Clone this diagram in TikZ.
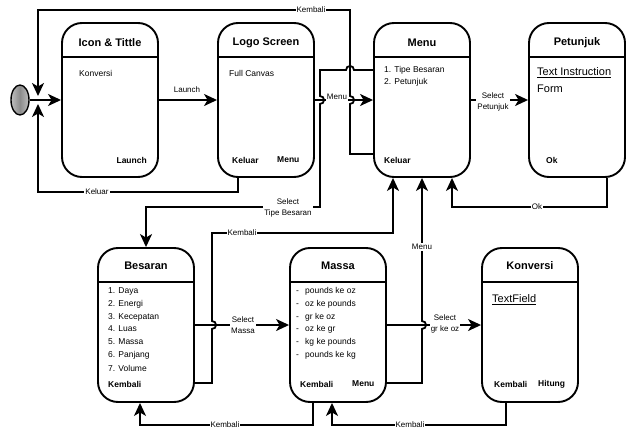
\documentclass[tikz,border=0pt]{standalone}
\usepackage{fontspec}
\setmainfont{Liberation Sans}
\usetikzlibrary{arrows.meta,shapes.geometric}
\begin{document}
\begin{tikzpicture}[x=1pt,y=-1pt,
  state/.style={draw, line width=1.9pt, rounded corners=20pt, minimum width=96pt, minimum height=154pt, inner sep=0pt},
  conn/.style={line width=1.8pt},
  arr/.style={conn, -{Stealth[length=13pt,width=12pt,inset=3.5pt]}},
  ttl/.style={font=\fontsize{11}{13}\selectfont\bfseries, inner sep=0pt},
  body/.style={font=\fontsize{8.5}{10}\selectfont, anchor=west, inner sep=0pt},
  bbody/.style={font=\fontsize{8.5}{10}\selectfont\bfseries, anchor=west, inner sep=0pt},
  big/.style={anchor=west, inner sep=0pt, font=\fontsize{11}{13}\selectfont},
  lbl/.style={font=\fontsize{8}{11}\selectfont, fill=white, inner sep=1pt, align=center},
  hdr/.style={line width=1.9pt},
]
\useasboundingbox (0,0) rectangle (629,428);

% states
\node[state] (icon) at (110,100) {};
\node[state] (logo) at (266,100) {};
\node[state] (menu) at (422,100) {};
\node[state] (pet)  at (577,100) {};
\node[state] (bes)  at (146,325) {};
\node[state] (massa) at (338,325) {};
\node[state] (konv) at (530,325) {};

\coordinate (h1) at (0,57);
\coordinate (h2) at (0,282);
\foreach \n in {icon,logo,menu,pet}{\draw[hdr] (\n.west |- h1) -- (\n.east |- h1);}
\foreach \n in {bes,massa,konv}{\draw[hdr] (\n.west |- h2) -- (\n.east |- h2);}

% titles
\node[ttl] (t1) at (110,43) {Icon \& Tittle};
\node[ttl] (t2) at (266,43) {Logo Screen};
\node[ttl] (t3) at (422,43) {Menu};
\node[ttl] (t4) at (577,43) {Petunjuk};
\node[ttl] (t5) at (146,266) {Besaran};
\node[ttl] (t6) at (338,266) {Massa};
\node[ttl] (t7) at (530,266) {Konversi};

% icon
\node[body] (i1) at (79,73) {Konversi};
\node[bbody, anchor=east] (i2) at (147,160) {Launch};
% logo
\node[body] (l1) at (229,73) {Full Canvas};
\node[bbody] (l2) at (232,160) {Keluar};
\node[bbody] (l3) at (277,160) {Menu};
% menu
\node[body] (m1) at (384,70) {1. Tipe Besaran};
\node[body] (m2) at (384,82) {2. Petunjuk};
\node[bbody] (m3) at (384,160) {Keluar};
% petunjuk
\node[big] (p1) at (537,73) {\underline{Text Instruction}};
\node[big] (p2) at (537,89) {Form};
\node[bbody] (p3) at (546,160) {Ok};
% besaran
\node[body] (b1) at (108,291) {1. Daya};
\node[body] (b2) at (108,304) {2. Energi};
\node[body] (b3) at (108,317) {3. Kecepatan};
\node[body] (b4) at (108,329) {4. Luas};
\node[body] (b5) at (108,342) {5. Massa};
\node[body] (b6) at (108,355) {6. Panjang};
\node[body] (b7) at (108,368) {7. Volume};
\node[bbody] (b8) at (108,384) {Kembali};
% massa
\node[body] (s1) at (296,291) {\makebox[9pt][l]{-}pounds ke oz};
\node[body] (s2) at (296,304) {\makebox[9pt][l]{-}oz ke pounds};
\node[body] (s3) at (296,317) {\makebox[9pt][l]{-}gr ke oz};
\node[body] (s4) at (296,329) {\makebox[9pt][l]{-}oz ke gr};
\node[body] (s5) at (296,342) {\makebox[9pt][l]{-}kg ke pounds};
\node[body] (s6) at (296,355) {\makebox[9pt][l]{-}pounds ke kg};
\node[bbody] (s7) at (300,384) {Kembali};
\node[bbody] (s8) at (352,384) {Menu};
% konversi
\node[big] (k1) at (492,300) {\underline{TextField}};
\node[bbody] (k2) at (494,384) {Kembali};
\node[bbody] (k3) at (538,384) {Hitung};

% initial state
\node[ellipse, draw, line width=1.4pt, left color=gray!50, right color=gray!50, middle color=gray!90, minimum width=18pt, minimum height=30pt, inner sep=0pt] (init) at (20,100) {};
\coordinate (inTop) at (38,96);
\coordinate (inBot) at (38,104);

% connectors
\draw[arr] (init.east) -- (init.east -| icon.west);
\draw[arr] (icon.east) -- (logo.west);
\node[lbl, fill=none] (la) at (187,90) {Launch};

\draw[arr] (logo.east) -- (menu.west);
\node[lbl] (lm) at (337,97) {Menu};

\draw[arr] ([yshift=-54pt]menu.west) -- (350,154) -- (350,104)
  .. controls (355.33,104) and (355.33,96) .. (350,96) -- (350,10) -- (38,10) -- (inTop);
\node[lbl] (lk0) at (311,10) {Kembali};

\draw[arr] ([yshift=30pt]menu.west) -- (354,70)
  .. controls (354,64.67) and (346,64.67) .. (346,70) -- (320,70) -- (320,96)
  .. controls (325.33,96) and (325.33,104) .. (320,104) -- (320,207) -- (146,207) -- (bes.north);
\node[lbl] (lst) at (288,208) {Select\\Tipe Besaran};

\draw[arr] ([xshift=-28pt]logo.south) -- (238,192) -- (38,192) -- (inBot);
\node[lbl] (lkl) at (97,192) {Keluar};

\draw[arr] (menu.east) -- (pet.west);
\node[lbl] (lsp) at (493,102) {Select\\Petunjuk};

\draw[arr] ([xshift=30pt]pet.south) -- (607,207) -- (452,207) -- ([xshift=30pt]menu.south);
\node[lbl] (lok) at (537,207) {Ok};

\draw[arr] ([yshift=-58pt]bes.east) -- (212,383) -- (212,329)
  .. controls (217.33,329) and (217.33,321) .. (212,321) -- (212,233) -- (393,233) -- ([xshift=-29pt]menu.south);
\node[lbl] (lkb) at (242,233) {Kembali};

\draw[arr] (bes.east) -- (massa.west);
\node[lbl] (lsm) at (243,325) {Select\\Massa};

\draw[arr] ([yshift=-58pt]massa.east) -- (422,383) -- (422,329)
  .. controls (427.33,329) and (427.33,321) .. (422,321) -- (menu.south);
\node[lbl] (lmm) at (422,247) {Menu};

\draw[arr] (massa.east) -- (konv.west);
\node[lbl] (lsg) at (445,324) {Select\\gr ke oz};

\draw[arr] ([xshift=-25pt]massa.south) -- (313,425) -- (140,425) -- ([xshift=-6pt]bes.south);
\node[lbl] (lkm) at (225,425) {Kembali};

\draw[arr] ([xshift=-24pt]konv.south) -- (506,425) -- (332,425) -- ([xshift=-6pt]massa.south);
\node[lbl] (lkk) at (410,425) {Kembali};
\end{tikzpicture}
\end{document}
